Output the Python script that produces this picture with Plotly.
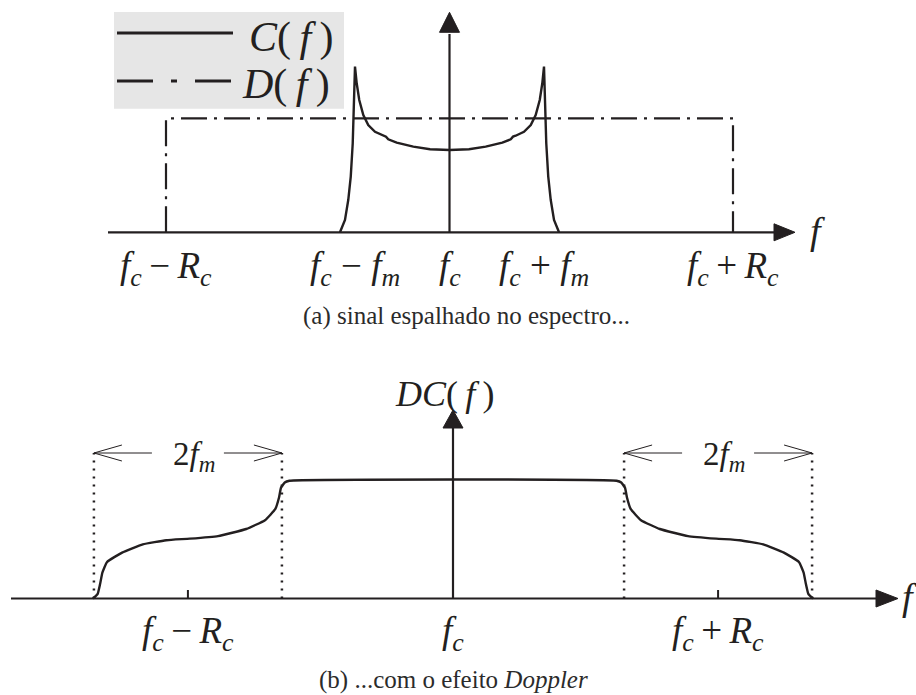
import plotly.graph_objects as go

# ---- spectrum values (fc = 0, frequency in units of fm) ----
FC = 0.0
FM = 1.0
RC_A = 3.0          # chip rate used in panel (a)
RC_B = 2.82         # chip rate used in panel (b)
D_LEVEL = 1.0       # height of the spread spectrum D(f)

# D(f): flat band between fc-Rc and fc+Rc
d_f = [-RC_A, -RC_A, RC_A, RC_A]
d_val = [0.0, D_LEVEL, D_LEVEL, 0.0]

# C(f): Doppler (U-shaped) spectrum of width 2fm
c_f = [-1.159, -1.106, -1.071, -1.045, -1.024, -1.010, -1.000,
       -0.982, -0.955, -0.912, -0.860, -0.788, -0.700, -0.672, -0.648,
       -0.559, -0.383, -0.206, 0.0,
       0.206, 0.383, 0.559, 0.648, 0.672, 0.700, 0.788, 0.860, 0.912,
       0.955, 0.982, 1.000, 1.010, 1.024, 1.045, 1.071, 1.106, 1.159]
c_val = [0.0, 0.108, 0.285, 0.489, 0.781, 1.100, 1.453,
         1.307, 1.161, 1.029, 0.941, 0.882, 0.847, 0.839, 0.816,
         0.786, 0.751, 0.728, 0.722,
         0.728, 0.751, 0.786, 0.816, 0.839, 0.847, 0.882, 0.941, 1.029,
         1.161, 1.307, 1.453, 1.100, 0.781, 0.489, 0.285, 0.108, 0.0]

# DC(f): spread spectrum seen through the Doppler channel
dc_f = [-3.83, -3.78, -3.755, -3.73, -3.68, -3.52, -3.30, -3.05, -2.80,
        -2.50, -2.20, -2.00, -1.89, -1.85, -1.83, -1.79, -1.74,
        1.74, 1.79, 1.83, 1.85, 1.89, 2.00, 2.20, 2.50, 2.80, 3.05,
        3.30, 3.52, 3.68, 3.73, 3.755, 3.78, 3.83]
dc_val = [0.0, 0.04, 0.12, 0.22, 0.31, 0.39, 0.46, 0.495, 0.508,
          0.53, 0.59, 0.665, 0.76, 0.86, 0.94, 0.985, 1.0,
          1.0, 0.985, 0.94, 0.86, 0.76, 0.665, 0.59, 0.53, 0.508, 0.495,
          0.46, 0.39, 0.31, 0.22, 0.12, 0.04, 0.0]

# tick labels
ticks_a = [-RC_A, -FM, FC, FM, RC_A]
labels_a = ["<i>f</i><sub><i>c</i></sub>\u2009\u2212\u2009<i>R</i><sub><i>c</i></sub>",
            "<i>f</i><sub><i>c</i></sub> \u2212 <i>f</i><sub><i>m</i></sub>",
            "<i>f</i><sub><i>c</i></sub>",
            "<i>f</i><sub><i>c</i></sub> + <i>f</i><sub><i>m</i></sub>",
            "<i>f</i><sub><i>c</i></sub>\u2009+\u2009<i>R</i><sub><i>c</i></sub>"]
ticks_b = [-RC_B, FC, RC_B]
labels_b = [labels_a[0], labels_a[2], labels_a[4]]

# ---- page geometry (pixels) ----
W, H = 916, 695
XA_C, XA_S, YA_0, YA_S = 449.5, 94.5, 232.3, 114.0     # panel (a)
XB_C, XB_S, YB_0, YB_S = 453.0, 94.0, 598.5, 117.8     # panel (b)

INK = "#231f20"
FONT = "Liberation Serif"


def ax(px): return (px - XA_C) / XA_S
def ay(py): return (YA_0 - py) / YA_S
def bx(px): return (px - XB_C) / XB_S
def by(py): return (YB_0 - py) / YB_S


fig = go.Figure()

fig.add_trace(go.Scatter(x=d_f, y=d_val, mode="lines", xaxis="x", yaxis="y",
                         line=dict(color=INK, width=2.2, dash="26px,7px,3px,7px"),
                         hoverinfo="skip"))
fig.add_trace(go.Scatter(x=c_f, y=c_val, mode="lines", xaxis="x", yaxis="y",
                         line=dict(color=INK, width=2.4), hoverinfo="skip"))
fig.add_trace(go.Scatter(x=dc_f, y=dc_val, mode="lines", xaxis="x2", yaxis="y2",
                         line=dict(color=INK, width=2.4, shape="spline", smoothing=0.4),
                         hoverinfo="skip"))

shapes = []
ann = []


def line(x0, y0, x1, y1, ref, width=2.0, dash="solid", color=INK):
    shapes.append(dict(type="line", x0=x0, y0=y0, x1=x1, y1=y1,
                       xref=ref[0], yref=ref[1],
                       line=dict(color=color, width=width, dash=dash)))


def tri(pts, ref):
    path = "M " + " L ".join(f"{x},{y}" for x, y in pts) + " Z"
    shapes.append(dict(type="path", path=path, xref=ref[0], yref=ref[1],
                       fillcolor=INK, line=dict(color=INK, width=1)))


def text(x, y, s, ref, size, color=INK):
    ann.append(dict(x=x, y=y, xref=ref[0], yref=ref[1], text=s, showarrow=False,
                    xanchor="center", yanchor="middle",
                    font=dict(family=FONT, size=size, color=color)))


RA = ("x", "y")
RB = ("x2", "y2")

# ---- panel (a) ----
# legend block
shapes.append(dict(type="rect", xref="x", yref="y", x0=ax(114), x1=ax(344),
                   y0=ay(108.7), y1=ay(12), fillcolor="#e6e6e6",
                   line=dict(width=0), layer="below"))
line(ax(117), ay(33), ax(233), ay(33), RA, width=3)
line(ax(117), ay(81), ax(233), ay(81), RA, width=3.2, dash="36px,18px,6px,18px")
text(ax(291), ay(37), "<i>C</i>(\u2009<i>f</i>\u2009)", RA, 42)
text(ax(286), ay(84), "<i>D</i>(\u2009<i>f</i>\u2009)", RA, 42)

# axes
line(ax(108), 0, ax(776), 0, RA, width=2.2)
tri([(ax(795), 0), (ax(774), ay(YA_0 - 8.5)), (ax(774), ay(YA_0 + 8.5))], RA)
line(FC, 0, FC, ay(34), RA, width=2.2)
tri([(FC, ay(12.3)), (ax(XA_C - 10), ay(32.3)), (ax(XA_C + 10), ay(32.3))], RA)
text(ax(817), ay(231), "<i>f</i>", RA, 38)

for t, s in zip(ticks_a, labels_a):
    text(t, ay(268), s, RA, 37)

text(ax(466), ay(316), "(a) sinal espalhado no espectro...", RA, 25, color="#2b2b2b")

# ---- panel (b) ----
line(bx(11), 0, bx(877), 0, RB, width=2.2)
tri([(bx(898), 0), (bx(876), by(YB_0 - 8.5)), (bx(876), by(YB_0 + 8.5))], RB)
line(FC, 0, FC, by(428), RB, width=2.2)
tri([(FC, by(410)), (bx(XB_C - 10), by(428)), (bx(XB_C + 10), by(428))], RB)
text(bx(444), by(394), "<i>DC</i>(\u2009<i>f</i>\u2009)", RB, 36)
text(bx(909), by(597), "<i>f</i>", RB, 38)

for t in (-RC_B, RC_B):
    line(t, 0, t, by(590), RB, width=2)
    for e in (t - FM, t + FM):
        line(e, 0, e, by(453), RB, width=2.5, dash="2px,6px")
    # double-headed span arrow labelled 2fm
    yA = by(453)
    half_gap = 36 / XB_S
    lo, hi = t - FM, t + FM
    line(lo, yA, t - half_gap, yA, RB, width=1)
    line(t + half_gap, yA, hi, yA, RB, width=1)
    bl, bh = 28 / XB_S, 8 / YB_S
    line(lo, yA, lo + bl, yA + bh, RB, width=1)
    line(lo, yA, lo + bl, yA - bh, RB, width=1)
    line(hi, yA, hi - bl, yA + bh, RB, width=1)
    line(hi, yA, hi - bl, yA - bh, RB, width=1)
    text(t + 6 / XB_S, by(456), "2<i>f</i><sub><i>m</i></sub>", RB, 33)

for t, s in zip(ticks_b, labels_b):
    text(t, by(633), s, RB, 37)

text(bx(453), by(680), "(b) ...com o efeito <i>Doppler</i>", RB, 25, color="#2b2b2b")

hidden = dict(visible=False, fixedrange=True)
fig.update_layout(
    width=W, height=H, autosize=False,
    margin=dict(l=0, r=0, t=0, b=0, pad=0),
    paper_bgcolor="white", plot_bgcolor="white",
    showlegend=False,
    xaxis=dict(range=[ax(0), ax(W)], domain=[0, 1], **hidden),
    yaxis=dict(range=[ay(H), ay(0)], domain=[0, 1], **hidden),
    xaxis2=dict(range=[bx(0), bx(W)], domain=[0, 1], overlaying="x", **hidden),
    yaxis2=dict(range=[by(H), by(0)], domain=[0, 1], overlaying="y", **hidden),
    shapes=shapes,
    annotations=ann,
)

fig.write_html("out.html")
